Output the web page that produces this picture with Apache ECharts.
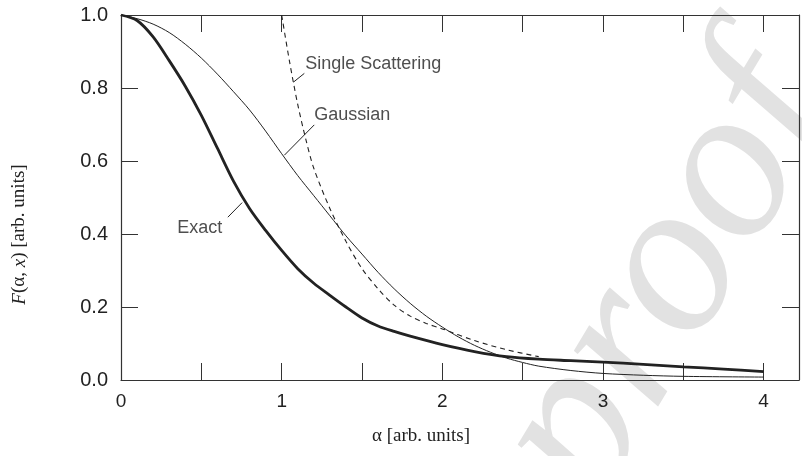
<!DOCTYPE html>
<html>
<head>
<meta charset="utf-8">
<style>
  html, body { margin: 0; padding: 0; background: #fff; }
  #chart { width: 802px; height: 456px; }
</style>
<script src="https://cdn.jsdelivr.net/npm/echarts@6/dist/echarts.min.js"></script>
</head>
<body>
<div id="chart"></div>
<script>
// x ticks / y ticks
var xTickLabels = [0, 1, 2, 3, 4];
var yTickLabels = [0.0, 0.2, 0.4, 0.6, 0.8, 1.0];

// Exact (thick)
var exactX = [0, 0.1, 0.2, 0.3, 0.4, 0.5, 0.6, 0.7, 0.8, 0.9, 1.0, 1.1, 1.2, 1.3, 1.4, 1.5, 1.6, 1.7, 1.8, 2.0, 2.2, 2.4, 2.6, 2.8, 3.0, 3.25, 3.5, 3.75, 4.0];
var exactY = [1.0, 0.985, 0.94, 0.875, 0.805, 0.725, 0.635, 0.545, 0.47, 0.41, 0.355, 0.305, 0.265, 0.232, 0.2, 0.17, 0.148, 0.133, 0.12, 0.097, 0.078, 0.064, 0.057, 0.053, 0.049, 0.043, 0.036, 0.03, 0.023];

// Gaussian (thin)
var gaussX = [0, 0.1, 0.2, 0.3, 0.4, 0.5, 0.6, 0.7, 0.8, 0.9, 1.0, 1.1, 1.2, 1.3, 1.4, 1.5, 1.6, 1.7, 1.8, 1.9, 2.0, 2.1, 2.2, 2.3, 2.4, 2.5, 2.6, 2.8, 3.0, 3.25, 3.5, 4.0];
var gaussY = [1.0, 0.99, 0.975, 0.952, 0.92, 0.882, 0.838, 0.79, 0.74, 0.682, 0.62, 0.56, 0.505, 0.45, 0.395, 0.345, 0.295, 0.25, 0.21, 0.175, 0.145, 0.118, 0.095, 0.076, 0.06, 0.048, 0.038, 0.026, 0.018, 0.013, 0.01, 0.008];

// Single scattering (dashed)
var singleX = [1.0, 1.05, 1.1, 1.15, 1.2, 1.3, 1.4, 1.5, 1.6, 1.7, 1.8, 1.9, 2.0, 2.2, 2.4, 2.6];
var singleY = [1.0, 0.87, 0.755, 0.66, 0.58, 0.47, 0.38, 0.305, 0.25, 0.205, 0.175, 0.155, 0.14, 0.108, 0.083, 0.064];

// annotation texts and leader lines (data coords)
var noteText = ['Single Scattering', 'Gaussian', 'Exact'];
var noteAt = [[1.147, 0.866], [1.203, 0.727], [0.63, 0.415]];
var notePos = ['right', 'right', 'left'];
var leaders = [
  [[1.073, 0.816], [1.141, 0.840]],
  [[1.017, 0.616], [1.203, 0.699]],
  [[0.665, 0.446], [0.754, 0.486]]
];

function pairs(xs, ys) {
  return xs.map(function (x, i) { return [x, ys[i]]; });
}

var ink = '#222';
var axisCol = '#333';
var sans = 'Liberation Sans';
var serif = 'Liberation Serif';

var chart = echarts.init(document.getElementById('chart'));

var tickStyle = { inside: true, length: 17, lineStyle: { color: axisCol, width: 1 } };
var lineStyleAxis = { show: true, onZero: false, lineStyle: { color: axisCol, width: 1.2 } };

var option = {
  animation: false,
  backgroundColor: '#fff',
  graphic: [{
    type: 'text',
    x: 668,
    y: 278,
    rotation: 1.03,
    z: -10,
    silent: true,
    style: {
      text: 'proof',
      font: 'italic 220px "Liberation Serif"',
      textAlign: 'center',
      textVerticalAlign: 'middle',
      fill: '#e2e2e2'
    }
  }],
  grid: { left: 121, right: 0, top: 15, bottom: 76 },
  xAxis: [{
    type: 'value',
    min: 0,
    max: 4.22,
    interval: 0.5,
    position: 'bottom',
    name: 'α [arb. units]',
    nameLocation: 'middle',
    nameGap: 47,
    nameTextStyle: { fontFamily: serif, fontSize: 19, color: ink, padding: [0, 78, 0, 0] },
    axisLine: lineStyleAxis,
    axisTick: tickStyle,
    splitLine: { show: false },
    axisLabel: {
      margin: 12,
      fontFamily: sans,
      fontSize: 19,
      color: ink,
      formatter: function (v) {
        return xTickLabels.indexOf(v) >= 0 ? String(v) : '';
      }
    }
  }, {
    type: 'value',
    min: 0,
    max: 4.22,
    interval: 0.5,
    position: 'top',
    axisLine: lineStyleAxis,
    axisTick: tickStyle,
    splitLine: { show: false },
    axisLabel: { show: false }
  }],
  yAxis: [{
    type: 'value',
    min: 0,
    max: 1,
    interval: 0.2,
    position: 'left',
    name: '{i|F}(α, {i|x}) [arb. units]',
    nameLocation: 'middle',
    nameGap: 92,
    nameRotate: 90,
    nameTextStyle: {
      fontFamily: serif, fontSize: 19, color: ink,
      padding: [0, 74, 0, 0],
      rich: { i: { fontFamily: serif, fontSize: 19, fontStyle: 'italic', color: ink } }
    },
    axisLine: lineStyleAxis,
    axisTick: tickStyle,
    splitLine: { show: false },
    axisLabel: {
      margin: 13,
      fontFamily: sans,
      fontSize: 20,
      color: ink,
      formatter: function (v) { return v.toFixed(1); }
    }
  }, {
    type: 'value',
    min: 0,
    max: 1,
    interval: 0.2,
    position: 'right',
    axisLine: lineStyleAxis,
    axisTick: tickStyle,
    splitLine: { show: false },
    axisLabel: { show: false }
  }],
  series: [{
    name: 'Exact',
    type: 'line',
    data: pairs(exactX, exactY),
    smooth: 0.3,
    showSymbol: false,
    z: 5,
    lineStyle: { color: ink, width: 2.8 }
  }, {
    name: 'Gaussian',
    type: 'line',
    data: pairs(gaussX, gaussY),
    smooth: 0.3,
    showSymbol: false,
    z: 5,
    lineStyle: { color: ink, width: 1 }
  }, {
    name: 'Single Scattering',
    type: 'line',
    data: pairs(singleX, singleY),
    smooth: 0.3,
    showSymbol: false,
    z: 5,
    lineStyle: { color: ink, width: 1.1, type: [5, 4] }
  }, {
    name: 'notes',
    type: 'scatter',
    symbolSize: 0,
    silent: true,
    z: 6,
    data: noteAt.map(function (p, i) {
      return {
        value: p,
        label: {
          show: true,
          position: notePos[i],
          distance: 0,
          formatter: noteText[i],
          fontFamily: sans,
          fontSize: 18,
          color: ink
        }
      };
    }),
    markLine: {
      silent: true,
      symbol: 'none',
      label: { show: false },
      lineStyle: { color: ink, width: 1, type: 'solid' },
      data: leaders.map(function (l) {
        return [{ coord: l[0] }, { coord: l[1] }];
      })
    }
  }]
};

chart.setOption(option);
</script>
</body>
</html>
